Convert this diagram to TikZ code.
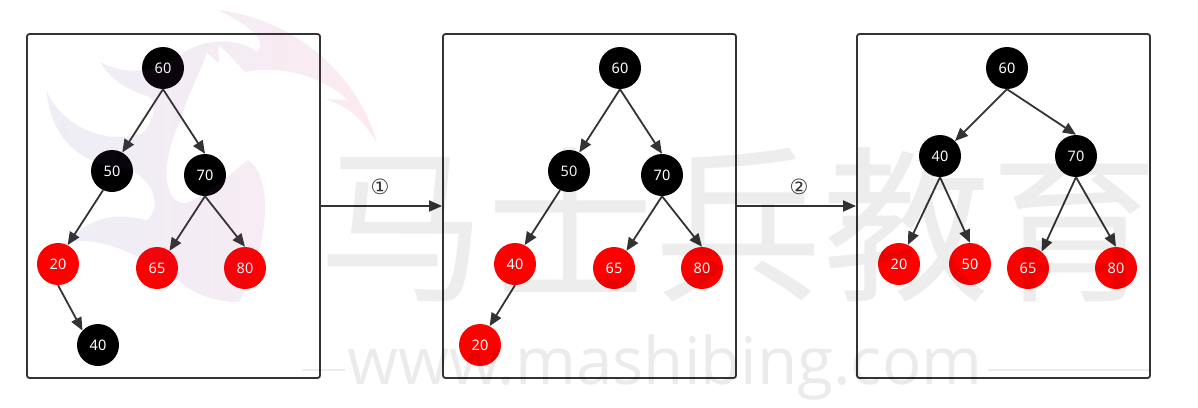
\documentclass[tikz,border=0pt]{standalone}
\usepackage{fontspec}
\setmainfont{Noto Sans}
\newfontfamily\cjkmark{Noto Sans CJK SC}
\newfontfamily\latinmark{Open Sans}
\newfontfamily\circled{DejaVu Sans}
\usetikzlibrary{arrows.meta}
\definecolor{linegray}{HTML}{333333}
\definecolor{logopink}{HTML}{D81B60}
\definecolor{logoblue}{HTML}{3F3FA0}
\tikzset{
  panel/.style={draw=linegray,line width=1.8pt,rounded corners=2.5pt,minimum width=293pt,minimum height=344pt,inner sep=0pt},
  blk/.style={circle,fill=black,text=white,minimum size=42pt,inner sep=0pt,font=\fontsize{14.5}{14.5}\selectfont},
  rd/.style={circle,fill=red,text=white,minimum size=42pt,inner sep=0pt,font=\fontsize{14.5}{14.5}\selectfont},
  link/.style={draw=linegray,line width=1.8pt,-{Triangle[length=13pt,width=11pt]}},
  stepno/.style={text=linegray,inner sep=0pt,font=\circled\fontsize{21}{21}\selectfont},
  markrule/.style={draw=black,opacity=0.07,line width=2.5pt}
}
\begin{document}
\begin{tikzpicture}[x=1pt,y=-1pt]
\useasboundingbox (0,0) rectangle (1198,407);
\node[panel] (box1) at (173.5,206) {};
\node[panel] (box2) at (589.5,206) {};
\node[panel] (box3) at (1003.5,206) {};

\node[blk] (a60) at (163,68) {60};
\node[blk] (a50) at (112,171) {50};
\node[blk] (a70) at (205,175) {70};
\node[rd] (a20) at (58,264) {20};
\node[rd] (a65) at (157,268) {65};
\node[rd] (a80) at (245,268) {80};
\node[blk] (a40) at (98,345) {40};
\path[link] (a60.south) -- (a50.61);
\path[link] (a60.south) -- (a70.north);
\path[link] (a50.245) -- (a20.63);
\path[link] (a70.south) -- (a65.54);
\path[link] (a70.south) -- (a80.north);
\path[link] (a20.south) -- (a40.137);

\node[blk] (b60) at (620,68) {60};
\node[blk] (b50) at (569,171) {50};
\node[blk] (b70) at (662,175) {70};
\node[rd] (b40) at (515,264) {40};
\node[rd] (b65) at (614,268) {65};
\node[rd] (b80) at (702,268) {80};
\node[rd] (b20) at (480,345) {20};
\path[link] (b60.south) -- (b50.61);
\path[link] (b60.south) -- (b70.north);
\path[link] (b50.245) -- (b40.63);
\path[link] (b70.south) -- (b65.54);
\path[link] (b70.south) -- (b80.north);
\path[link] (b40.south) -- (b20.63);

\node[blk] (c60) at (1007,68) {60};
\node[blk] (c40) at (940,156) {40};
\node[blk] (c70) at (1076,156) {70};
\node[rd] (c20) at (899,264) {20};
\node[rd] (c50) at (970,264) {50};
\node[rd] (c65) at (1028,268) {65};
\node[rd] (c80) at (1116,268) {80};
\path[link] (c60.south) -- (c40.north east);
\path[link] (c60.south) -- (c70.north);
\path[link] (c40.south) -- (c20.65);
\path[link] (c40.south) -- (c50.north);
\path[link] (c70.south) -- (c65.50);
\path[link] (c70.south) -- (c80.north);

\path[link] (box1) -- (box2);
\path[link] (box2) -- (box3);
\node[stepno] (s1) at (380,186.5) {①};
\node[stepno] (s2) at (799,186.5) {②};

% watermark lies over everything
\path[left color=logoblue,right color=logopink,opacity=0.09]
  (218,10) .. controls (300,20) and (360,80) .. (377,143)
  .. controls (360,115) and (345,105) .. (325,99) -- (348,100)
  .. controls (320,75) and (280,65) .. (245,72)
  .. controls (235,62) and (222,45) .. (218,47) -- (219,63) -- (207,53)
  .. controls (197,80) and (185,100) .. (183,115)
  .. controls (170,140) and (165,165) .. (167,180)
  .. controls (170,205) and (185,210) .. (205,192)
  .. controls (220,185) and (235,170) .. (248,160)
  .. controls (272,175) and (272,240) .. (239,302)
  .. controls (215,302) and (195,295) .. (178,280)
  .. controls (140,255) and (100,235) .. (68,243)
  .. controls (90,215) and (117,213) .. (147,220)
  .. controls (165,205) and (150,170) .. (117,167)
  .. controls (85,165) and (50,140) .. (47,92)
  .. controls (65,130) and (110,145) .. (143,133)
  .. controls (155,118) and (157,105) .. (150,97)
  .. controls (130,90) and (115,85) .. (100,62)
  .. controls (130,78) and (160,70) .. (180,55)
  .. controls (200,40) and (235,35) .. (257,52)
  .. controls (265,45) and (260,30) .. (218,10) -- cycle;
\node[opacity=0.07,inner sep=0pt,font=\cjkmark\fontsize{168}{168}\selectfont] (mark) at (738,224) {马士兵教育};
\node[opacity=0.08,inner sep=0pt,font=\latinmark\fontsize{65.5}{65.5}\selectfont] (site) at (665,367) {www.mashibing.com};
\coordinate (r1) at (302,370);
\coordinate (r2) at (345,370);
\coordinate (r3) at (988,370);
\coordinate (r4) at (1150,370);
\path[markrule] (r1) -- (r2);
\path[markrule] (r3) -- (r4);
\end{tikzpicture}
\end{document}
